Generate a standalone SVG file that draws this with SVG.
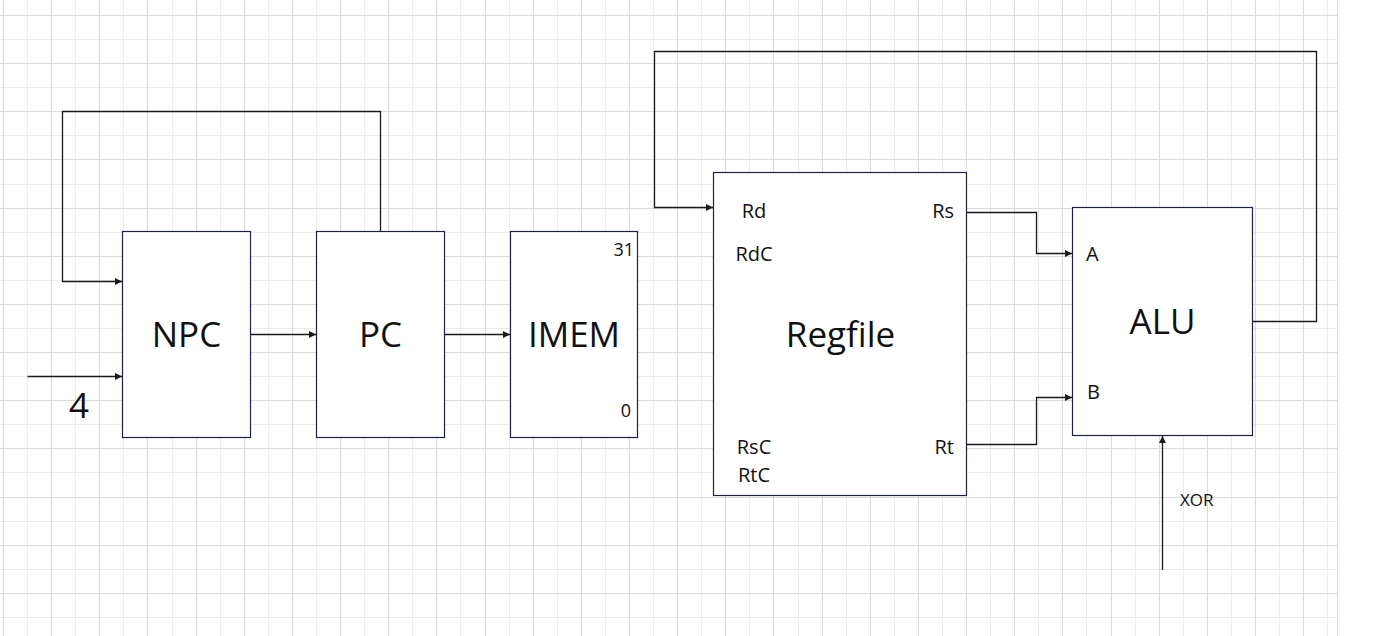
<svg xmlns="http://www.w3.org/2000/svg" width="1377" height="636" viewBox="0 0 1377 636">
  <style>
    .gl { stroke: #ececec; stroke-width: 1; fill: none; }
    .gd { stroke: #dadada; stroke-width: 1; fill: none; }
    .box { fill: #ffffff; stroke: #1c1f4a; stroke-width: 1.2; }
    .wire { fill: none; stroke: #1a1a1a; stroke-width: 1.3; }
    .big { font-family: "Open Sans", "Noto Sans", sans-serif; font-size: 35px; fill: #111111; text-anchor: middle; }
    .small { font-family: "Open Sans", "Noto Sans", sans-serif; font-size: 20px; fill: #111111; }
  </style>
  <defs>
    <marker id="arr" viewBox="0 0 10 10" refX="10" refY="5" markerWidth="8" markerHeight="7" markerUnits="userSpaceOnUse" orient="auto">
      <path d="M0,0 L10,5 L0,10 Z" fill="#1a1a1a"/>
    </marker>
  </defs>
  <rect width="1377" height="636" fill="#ffffff"/>
  <g id="grid">
    <path class="gl" d="M27.5,0V636 M75.5,0V636 M123.5,0V636 M172.5,0V636 M220.5,0V636 M268.5,0V636 M316.5,0V636 M364.5,0V636 M412.5,0V636 M460.5,0V636 M509.5,0V636 M557.5,0V636 M605.5,0V636 M653.5,0V636 M701.5,0V636 M749.5,0V636 M798.5,0V636 M846.5,0V636 M894.5,0V636 M942.5,0V636 M990.5,0V636 M1038.5,0V636 M1086.5,0V636 M1135.5,0V636 M1183.5,0V636 M1231.5,0V636 M1279.5,0V636 M1327.5,0V636
      M0,39.5H1338 M0,87.5H1338 M0,135.5H1338 M0,184.5H1338 M0,232.5H1338 M0,280.5H1338 M0,328.5H1338 M0,376.5H1338 M0,424.5H1338 M0,472.5H1338 M0,521.5H1338 M0,569.5H1338 M0,617.5H1338"/>
    <path class="gd" d="M3.5,0V636 M51.5,0V636 M99.5,0V636 M147.5,0V636 M196.5,0V636 M244.5,0V636 M292.5,0V636 M340.5,0V636 M388.5,0V636 M436.5,0V636 M485.5,0V636 M533.5,0V636 M581.5,0V636 M629.5,0V636 M677.5,0V636 M725.5,0V636 M773.5,0V636 M822.5,0V636 M870.5,0V636 M918.5,0V636 M966.5,0V636 M1014.5,0V636 M1062.5,0V636 M1111.5,0V636 M1159.5,0V636 M1207.5,0V636 M1255.5,0V636 M1303.5,0V636 M1337.5,0V636
      M0,15.5H1338 M0,63.5H1338 M0,111.5H1338 M0,159.5H1338 M0,208.5H1338 M0,256.5H1338 M0,304.5H1338 M0,352.5H1338 M0,400.5H1338 M0,448.5H1338 M0,497.5H1338 M0,545.5H1338 M0,593.5H1338"/>
  </g>
  <g id="connectors">
    <path class="wire" d="M380.5,231.5 V111.5 H62.5 V281.5 H122" marker-end="url(#arr)"/>
    <path class="wire" d="M27.5,376.5 H122" marker-end="url(#arr)"/>
    <path class="wire" d="M250.5,334.5 H316" marker-end="url(#arr)"/>
    <path class="wire" d="M444.5,334.5 H510" marker-end="url(#arr)"/>
    <path class="wire" d="M966.5,212.5 H1036.5 V253.5 H1072" marker-end="url(#arr)"/>
    <path class="wire" d="M966.5,444.5 H1036.5 V397.5 H1072" marker-end="url(#arr)"/>
    <path class="wire" d="M1252.5,321.5 H1316.5 V51.5 H654.5 V207.5 H713" marker-end="url(#arr)"/>
    <path class="wire" d="M1162.5,570 V436" marker-end="url(#arr)"/>
    <text class="small" x="79" y="418" style="font-size:35px;text-anchor:middle">4</text>
    <text class="small" x="1180" y="506" style="font-size:17px">XOR</text>
  </g>
  <g id="npc">
    <rect class="box" x="122.5" y="231.5" width="128" height="206"/>
    <text class="big" x="186.5" y="347">NPC</text>
  </g>
  <g id="pc">
    <rect class="box" x="316.5" y="231.5" width="128" height="206"/>
    <text class="big" x="380.5" y="347">PC</text>
  </g>
  <g id="imem">
    <rect class="box" x="510.5" y="231.5" width="127" height="206"/>
    <text class="big" x="574" y="347">IMEM</text>
    <text class="small" x="634" y="256" style="text-anchor:end;font-size:18px">31</text>
    <text class="small" x="631" y="417" style="text-anchor:end;font-size:18px">0</text>
  </g>
  <g id="regfile">
    <rect class="box" x="713.5" y="172.5" width="253" height="323"/>
    <text class="big" x="840.5" y="347">Regfile</text>
    <text class="small" x="754" y="218" style="text-anchor:middle">Rd</text>
    <text class="small" x="754" y="261" style="text-anchor:middle">RdC</text>
    <text class="small" x="754" y="454" style="text-anchor:middle">RsC</text>
    <text class="small" x="754" y="482" style="text-anchor:middle">RtC</text>
    <text class="small" x="954" y="218" style="text-anchor:end">Rs</text>
    <text class="small" x="954" y="454" style="text-anchor:end">Rt</text>
  </g>
  <g id="alu">
    <rect class="box" x="1072.5" y="207.5" width="180" height="228"/>
    <text class="big" x="1162.5" y="334">ALU</text>
    <text class="small" x="1086" y="261">A</text>
    <text class="small" x="1087" y="399">B</text>
  </g>
</svg>
